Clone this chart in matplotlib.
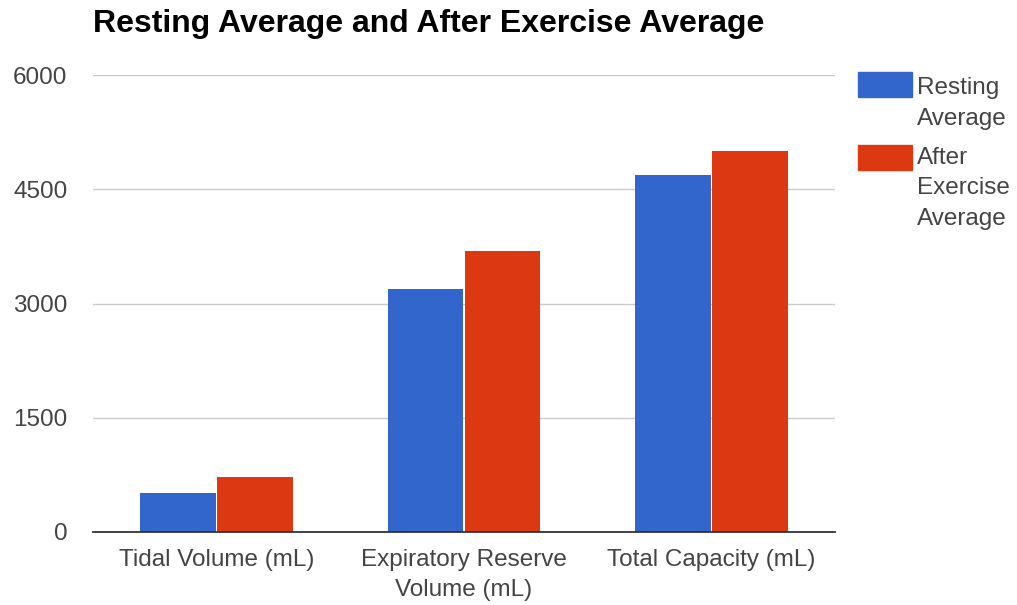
import numpy as np
import matplotlib
matplotlib.use('Agg')
import matplotlib.pyplot as plt
from matplotlib.patches import Rectangle

plt.rcParams['font.family'] = ['Liberation Sans', 'DejaVu Sans']

categories = ['Tidal Volume (mL)', 'Expiratory Reserve\nVolume (mL)', 'Total Capacity (mL)']
series_names = ['Resting\nAverage', 'After\nExercise\nAverage']
resting = [515, 3190, 4690]
after_ex = [725, 3690, 5000]
colors = ['#3366cc', '#dc3912']
yticks = [0, 1500, 3000, 4500, 6000]

W, H = 1017, 605
fig = plt.figure(figsize=(W / 100, H / 100), dpi=100)
ax = fig.add_axes([93 / W, (H - 532) / H, (835 - 93) / W, (532 - 75) / H])

x = np.arange(len(categories))
bw = 0.305
ax.bar(x - bw / 2 - 0.003, resting, bw, color=colors[0], zorder=3)
ax.bar(x + bw / 2 + 0.003, after_ex, bw, color=colors[1], zorder=3)

fs = 17.5
txt = '#444444'
ax.set_xlim(-0.5, len(categories) - 0.5)
ax.set_ylim(0, 6000)
ax.set_yticks(yticks)
ax.set_yticklabels([str(v) for v in yticks], fontsize=fs, color=txt)
ax.set_xticks(x)
ax.set_xticklabels(categories, fontsize=fs, color=txt, linespacing=1.5)
ax.tick_params(length=0, pad=12)
ax.tick_params(axis='y', pad=18.5)
ax.grid(axis='y', color='#cccccc', lw=1, zorder=0)
for s in ['top', 'right', 'left']:
    ax.spines[s].set_visible(False)
ax.spines['bottom'].set_color('#333333')
ax.spines['bottom'].set_linewidth(1.3)
ax.spines['bottom'].set_zorder(4)

fig.text(93 / W, 1 - 24 / H, 'Resting Average and After Exercise Average',
         fontsize=23, fontweight='bold', color='#000000', va='center', ha='left')

# legend
box_tops = [72, 145]
text_tops = [77, 147]
for name, c, top, tt in zip(series_names, colors, box_tops, text_tops):
    fig.patches.append(Rectangle((858 / W, 1 - (top + 25) / H), 54 / W, 25 / H,
                                 transform=fig.transFigure, color=c))
    fig.text(917 / W, 1 - tt / H, name, fontsize=fs, color=txt,
             va='top', ha='left', linespacing=1.5)

fig.savefig('out.png', dpi=100)
